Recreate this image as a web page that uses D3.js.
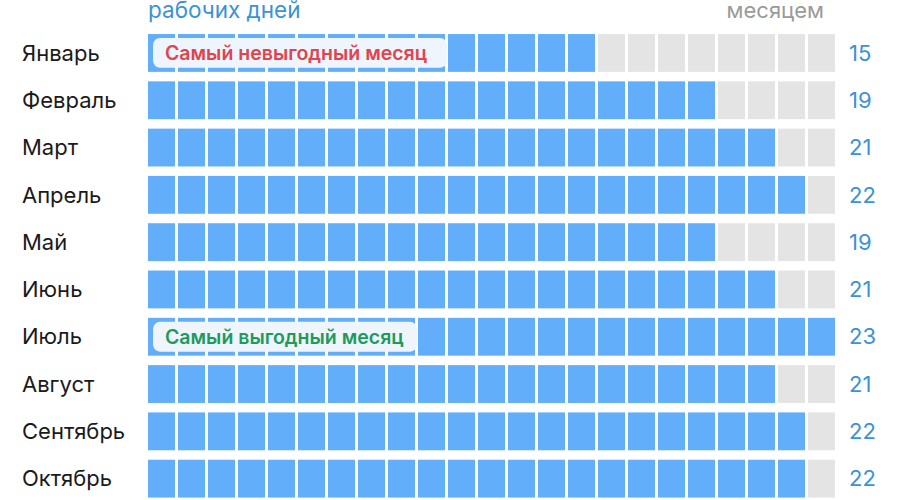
<!DOCTYPE html>
<html>
<head>
<meta charset="utf-8">
<script src="https://cdn.jsdelivr.net/npm/d3@7"></script>
<style>
  body { margin: 0; background: #fff; }
  svg text { font-family: Inter, Roboto, "Noto Sans", sans-serif; }
</style>
</head>
<body>
<svg id="chart" width="900" height="500"></svg>
<script>
// Рабочие дни по месяцам
const months = ['Январь', 'Февраль', 'Март', 'Апрель', 'Май', 'Июнь', 'Июль', 'Август', 'Сентябрь', 'Октябрь']
const workDays = [15, 19, 21, 22, 19, 21, 23, 21, 22, 22]
const maxDays = 23
const badges = [
    { month: 'Январь', text: 'Самый невыгодный месяц', color: '#e0444f', cols: 10 },
    { month: 'Июль', text: 'Самый выгодный месяц', color: '#1f9a5c', cols: 9 },
]
const headLeft = 'рабочих дней'
const headRight = 'месяцем'

const svg = d3.select('#chart')

const y = d3.scaleBand()
    .domain(months)
    .range([29.3, 29.3 + 473])
    .paddingInner(0.2)
    .paddingOuter(0.1)

const x = d3.scaleBand()
    .domain(d3.range(maxDays))
    .range([146.5, 146.5 + 690])
    .paddingInner(0.1)
    .paddingOuter(0.05)

// Заголовки сверху (обрезаны краем, как в оригинале)
svg.append('text')
    .attr('x', x(0))
    .attr('y', 18)
    .attr('fill', '#3b93d3')
    .attr('font-size', 22.5)
    .text(headLeft)

svg.append('text')
    .attr('x', 824)
    .attr('y', 18)
    .attr('text-anchor', 'end')
    .attr('fill', '#9a9a9a')
    .attr('font-size', 22)
    .text(headRight)

const rows = svg.selectAll('g.row')
    .data(months.map((m, i) => ({ month: m, days: workDays[i] })))
    .join('g')
    .attr('class', 'row')
    .attr('transform', d => `translate(0,${y(d.month)})`)

rows.selectAll('rect')
    .data(d => d3.range(maxDays).map(i => ({ i, on: i < d.days })))
    .join('rect')
    .attr('x', d => x(d.i))
    .attr('y', 0)
    .attr('width', x.bandwidth())
    .attr('height', y.bandwidth())
    .attr('fill', d => (d.on ? '#63aefa' : '#e4e4e4'))

rows.append('text')
    .attr('x', 22)
    .attr('y', y.bandwidth() / 2)
    .attr('dy', '0.35em')
    .attr('font-size', 22)
    .attr('fill', '#1a1a1a')
    .text(d => d.month)

rows.append('text')
    .attr('x', 849)
    .attr('y', y.bandwidth() / 2)
    .attr('dy', '0.35em')
    .attr('font-size', 22)
    .attr('fill', '#3b93d3')
    .text(d => d.days)

// Плашки
const badge = svg.selectAll('g.badge')
    .data(badges)
    .join('g')
    .attr('class', 'badge')
    .attr('transform', d => `translate(${x(0) + 5},${y(d.month) + 4})`)

badge.append('rect')
    .attr('width', d => x(d.cols - 1) + x.bandwidth() - x(0) - 5 + 2)
    .attr('height', y.bandwidth() - 8)
    .attr('rx', 7)
    .attr('fill', '#eef5fc')

badge.append('text')
    .attr('x', 12)
    .attr('y', (y.bandwidth() - 8) / 2)
    .attr('dy', '0.35em')
    .attr('font-size', 19.5)
    .attr('font-weight', 600)
    .attr('fill', d => d.color)
    .text(d => d.text)
</script>
</body>
</html>
